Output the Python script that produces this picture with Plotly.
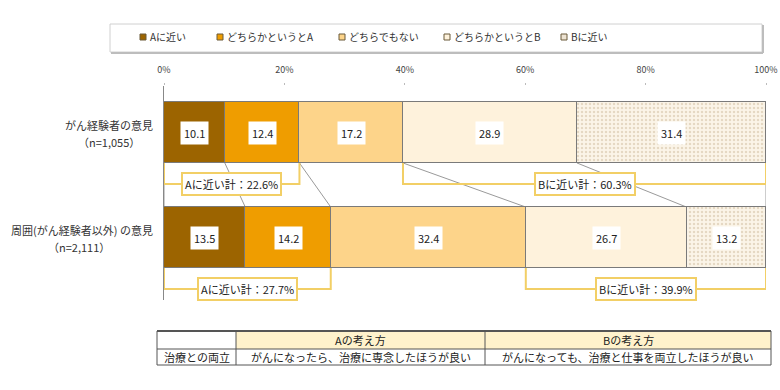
import numpy as np
import plotly.graph_objects as go

# ---------------- data ----------------
series_names = ["Aに近い", "どちらかというとA", "どちらでもない", "どちらかというとB", "Bに近い"]
values_experienced = [10.1, 12.4, 17.2, 28.9, 31.4]
values_others = [13.5, 14.2, 32.4, 26.7, 13.2]
categories = ["がん経験者の意見", "周囲(がん経験者以外) の意見"]
sample_sizes = ["（n=1,055）", "（n=2,111）"]
a_totals = [22.6, 27.7]
b_totals = [60.3, 39.9]
tick_values = [0, 20, 40, 60, 80, 100]
tick_labels = ["0%", "20%", "40%", "60%", "80%", "100%"]
table_header = ["", "Aの考え方", "Bの考え方"]
table_row = ["治療との両立", "がんになったら、治療に専念したほうが良い", "がんになっても、治療と仕事を両立したほうが良い"]

# ---------------- style ----------------
FONT = "Noto Sans CJK JP"
colors = ["#9C6400", "#EF9D00", "#FDD48A", "#FEF2DC", "#FBF4E8"]
edge = "#7a7a7a"
bracket_color = "#F2CF66"
W, H = 780, 390
ML, MR, MT, MB = 164, 14, 86, 90
PW = W - ML - MR
PH = H - MT - MB


def px(xp):
    return (xp - ML) / PW


def py(yp):
    return (H - MB - yp) / PH


rows = [values_experienced, values_others]
bar_w = 0.58
half = bar_w / 2

fig = go.Figure()
for i, name in enumerate(series_names):
    marker = dict(color=colors[i], line=dict(color=edge, width=1))
    if i == 4:
        marker["pattern"] = dict(shape=".", fgcolor="#CDBB9E", bgcolor=colors[i], size=4, solidity=0.3)
    fig.add_trace(go.Bar(
        x=[r[i] for r in rows], y=[0, 1], orientation="h", width=bar_w,
        name=name, marker=marker, showlegend=False, hoverinfo="skip",
    ))

annotations = []
shapes = []


def ann(**kw):
    kw.setdefault("showarrow", False)
    kw.setdefault("xanchor", "center")
    kw.setdefault("yanchor", "middle")
    annotations.append(kw)


# value labels inside bars
for r, vals in enumerate(rows):
    cum = np.concatenate([[0], np.cumsum(vals)])
    for i, v in enumerate(vals):
        ann(x=(cum[i] + cum[i + 1]) / 2, y=r, xref="x", yref="y", text=f"{v:.1f}",
            bgcolor="white", borderpad=3, font=dict(family=FONT, size=11, color="#222"))

# connector lines between bars
cum_e = np.concatenate([[0], np.cumsum(values_experienced)])
cum_o = np.concatenate([[0], np.cumsum(values_others)])
for k in range(len(cum_e)):
    shapes.append(dict(type="line", xref="x", yref="y", x0=cum_e[k], y0=half, x1=cum_o[k], y1=1 - half,
                       line=dict(color="#9a9a9a", width=1), layer="below"))

# brackets
for r, vals in enumerate(rows):
    cum = np.concatenate([[0], np.cumsum(vals)])
    yb = r + half
    yl = r + 0.49
    for (x0, x1, label) in [(cum[0], cum[2], f"Aに近い計：{a_totals[r]}%"),
                            (cum[3], cum[5], f"Bに近い計：{b_totals[r]}%")]:
        shapes.append(dict(type="path", xref="x", yref="y",
                           path=f"M {x0},{yb} L {x0},{yl} L {x1},{yl} L {x1},{yb}",
                           line=dict(color=bracket_color, width=2)))
        ann(x=(x0 + x1) / 2, y=yl, xref="x", yref="y", text=label,
            bgcolor="white", bordercolor=bracket_color, borderwidth=2, borderpad=2,
            font=dict(family=FONT, size=11, color="#222"))

# category labels
label_centers = [109, 79]
for r in range(2):
    yc = 132.5 + 105 * r
    ann(x=px(155), y=py(yc - 8), xref="paper", yref="paper", xanchor="right",
        text=categories[r], font=dict(family=FONT, size=11, color="#333"))
    ann(x=px(label_centers[r]), y=py(yc + 9), xref="paper", yref="paper",
        text=sample_sizes[r], font=dict(family=FONT, size=11, color="#333"))

# custom legend box
shapes.append(dict(type="rect", xref="paper", yref="paper", x0=px(110), x1=px(762), y0=py(52), y1=py(24),
                   line=dict(color="#d0d0d0", width=1), fillcolor="white", layer="below"))
shapes.append(dict(type="line", xref="paper", yref="paper", x0=px(111), x1=px(763), y0=py(53), y1=py(53),
                   line=dict(color="#bdbdbd", width=2)))
shapes.append(dict(type="line", xref="paper", yref="paper", x0=px(763), x1=px(763), y0=py(25), y1=py(53),
                   line=dict(color="#bdbdbd", width=2)))
legend_x = [143, 220, 342, 447, 564]
for i, name in enumerate(series_names):
    cx = legend_x[i]
    shapes.append(dict(type="rect", xref="paper", yref="paper", x0=px(cx - 3), x1=px(cx + 3),
                       y0=py(40), y1=py(34), fillcolor=colors[i] if i < 4 else "#EDE3D2",
                       line=dict(color="#6b5a3a", width=1)))
    ann(x=px(cx + 5), y=py(37), xref="paper", yref="paper", xanchor="left",
        text=name, font=dict(family=FONT, size=10, color="#333"))

# table
tx = [157, 236, 485, 771]
ty = [331, 349, 365]
for c in (1, 2):
    shapes.append(dict(type="rect", xref="paper", yref="paper", x0=px(tx[c]), x1=px(tx[c + 1]),
                       y0=py(ty[1]), y1=py(ty[0]), fillcolor="#FFF2CC", line=dict(width=0)))
shapes.append(dict(type="line", xref="paper", yref="paper", x0=px(tx[0]), x1=px(tx[3]), y0=py(ty[0]), y1=py(ty[0]),
                   line=dict(color="#555", width=2)))
for yv in ty[1:]:
    shapes.append(dict(type="line", xref="paper", yref="paper", x0=px(tx[0]), x1=px(tx[3]), y0=py(yv), y1=py(yv),
                       line=dict(color="#555", width=1)))
for xv in tx:
    shapes.append(dict(type="line", xref="paper", yref="paper", x0=px(xv), x1=px(xv), y0=py(ty[0]), y1=py(ty[2]),
                       line=dict(color="#555", width=1)))
for c in range(3):
    xc = (tx[c] + tx[c + 1]) / 2
    if table_header[c]:
        ann(x=px(xc), y=py((ty[0] + ty[1]) / 2), xref="paper", yref="paper",
            text=table_header[c], font=dict(family=FONT, size=11, color="#222"))
    ann(x=px(xc), y=py((ty[1] + ty[2]) / 2), xref="paper", yref="paper",
        text=table_row[c], font=dict(family=FONT, size=11, color="#222"))

fig.update_layout(
    width=W, height=H, barmode="stack", bargap=0,
    margin=dict(l=ML, r=MR, t=MT, b=MB, autoexpand=False),
    paper_bgcolor="white", plot_bgcolor="white",
    font=dict(family=FONT, color="#333"),
    xaxis=dict(range=[0, 100], side="top", tickvals=tick_values, ticktext=tick_labels,
               ticks="outside", ticklen=2, tickcolor="#bbb", showgrid=False, zeroline=False,
               showline=False, tickfont=dict(family=FONT, size=9, color="#444"),
               fixedrange=True, automargin=False, ticklabelstandoff=6),
    yaxis=dict(range=[1.595, -0.443], showticklabels=False, showgrid=False, zeroline=False,
               showline=True, linecolor="#888", linewidth=1, ticks="", fixedrange=True, automargin=False),
    annotations=annotations, shapes=shapes,
)

fig.write_html("out.html", config={"displayModeBar": False},
               post_script="document.body.style.margin='0px';document.body.style.padding='0px';")
